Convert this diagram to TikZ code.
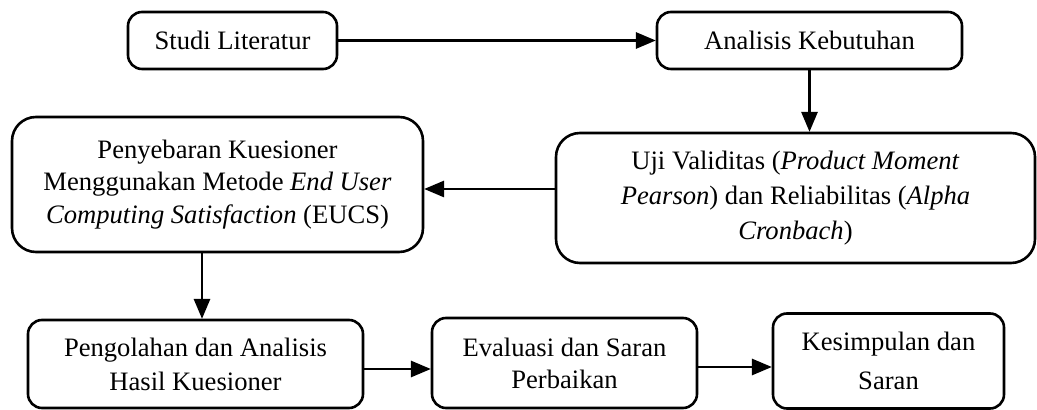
\documentclass[tikz,border=0pt]{standalone}
\usepackage{fontspec}
\setmainfont{Liberation Serif}
\usepackage{tikz}
\usetikzlibrary{shapes.geometric, arrows}
\tikzstyle{process} = [rectangle, rounded corners=7pt, inner sep=0pt, text centered, align=center, draw=black, line width=1.3pt, font=\fontsize{13.3}{16.3}\selectfont]
\tikzstyle{bigprocess} = [process, rounded corners=12pt]
\tikzstyle{arrow} = [line width=1.3pt,->,>=triangle 45]

\begin{document}
\begin{tikzpicture}[x=0.5pt, y=-0.5pt]
\useasboundingbox (0,0) rectangle (1037,410);
\node (lit) [process, minimum width=104.5pt, minimum height=28.5pt] at (232.5,40.5) {Studi Literatur};
\node (butuh) [process, minimum width=152.5pt, minimum height=28.5pt] at (809.5,40.5) {Analisis Kebutuhan};
\node (sebar) [bigprocess, minimum width=205.5pt, minimum height=67.5pt] at (217.5,184.5) {Penyebaran Kuesioner\\Menggunakan Metode \textit{End User}\\\textit{Computing Satisfaction} (EUCS)};
\node (uji) [bigprocess, minimum width=239.5pt, minimum height=65pt, font=\fontsize{13.3}{17.5}\selectfont] at (795.5,198) {Uji Validitas (\textit{Product Moment}\\\textit{Pearson}) dan Reliabilitas (\textit{Alpha}\\\textit{Cronbach})};
\node (olah) [process, minimum width=167.5pt, minimum height=44pt, font=\fontsize{13.3}{17}\selectfont] at (195.5,364) {Pengolahan dan Analisis\\Hasil Kuesioner};
\node (eval) [process, minimum width=132.5pt, minimum height=45pt, font=\fontsize{13.3}{16}\selectfont] at (564.5,363) {Evaluasi dan Saran\\Perbaikan};
\node (simpul) [process, minimum width=115.5pt, minimum height=47.5pt, font=\fontsize{13.3}{19.5}\selectfont] at (888.5,361) {Kesimpulan dan\\Saran};
\draw [arrow] (lit) -- (butuh);
\draw [arrow] (butuh.south) -- (butuh.south |- uji.north);
\draw [arrow] ([yshift=4.5pt]uji.west) -- ([yshift=4.5pt]uji.west -| sebar.east);
\draw [arrow] ([xshift=-7.75pt]sebar.south) -- ([xshift=-7.75pt]sebar.south |- olah.north);
\draw [arrow] ([yshift=-2.5pt]olah.east) -- ([yshift=-2.5pt]olah.east -| eval.west);
\draw [arrow] ([yshift=-2pt]eval.east) -- ([yshift=-2pt]eval.east -| simpul.west);
\end{tikzpicture}
\end{document}
